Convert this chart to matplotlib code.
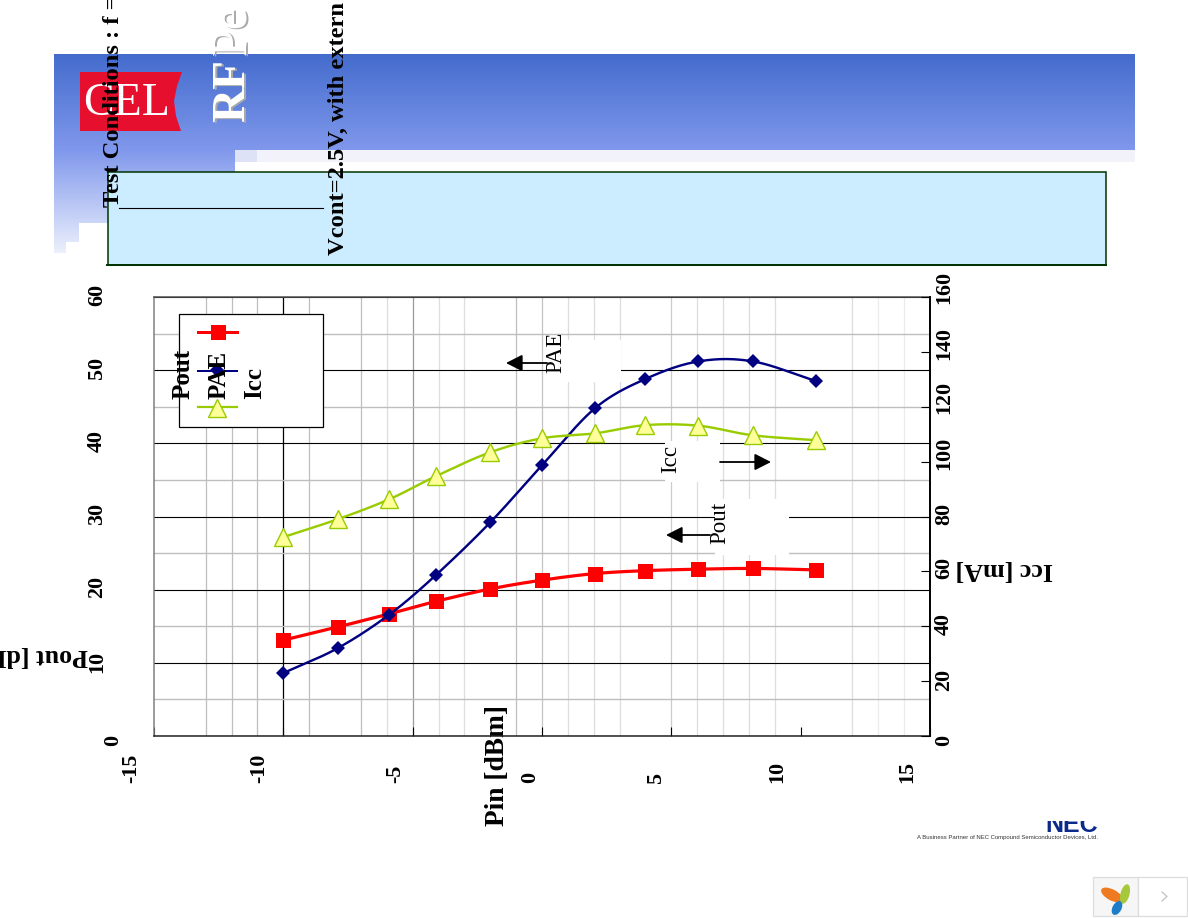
import numpy as np
import matplotlib
matplotlib.use("Agg")
import matplotlib.pyplot as plt
from matplotlib.patches import Rectangle, Polygon, Ellipse
from matplotlib.lines import Line2D
from matplotlib.transforms import Affine2D

# ---- data ----
pin_dbm = [-10.0, -7.9, -5.9, -4.1, -2.0, 0.0, 2.05, 4.0, 6.05, 8.15, 10.6]
pout_dbm = [13.1, 14.9, 16.7, 18.4, 20.1, 21.3, 22.2, 22.6, 22.8, 22.9, 22.7]
pae_pct = [8.6, 12.0, 16.6, 22.0, 29.2, 37.0, 44.8, 48.8, 51.2, 51.2, 48.5]
icc_ma = [72.5, 79.0, 86.3, 94.7, 103.4, 108.5, 110.3, 113.3, 113.1, 109.6, 107.8]

x_ticks = [-15, -10, -5, 0, 5, 10, 15]
left_ticks = [0, 10, 20, 30, 40, 50, 60]
right_ticks = [0, 20, 40, 60, 80, 100, 120, 140, 160]

SERIF = "Liberation Serif"
SANS = "Liberation Sans"
W, H = 1188, 918


def pt(px):
    return px * 0.72


def smooth(xs, ys, n=24):
    """Catmull-Rom curve through the measured points (Excel style smoothing)."""
    p = np.column_stack([xs, ys])
    p = np.vstack([2 * p[0] - p[1], p, 2 * p[-1] - p[-2]])
    out = []
    t = np.linspace(0, 1, n, endpoint=False)[:, None]
    for i in range(1, len(p) - 2):
        a, b, c, d = p[i - 1], p[i], p[i + 1], p[i + 2]
        out.append(0.5 * (2 * b + (c - a) * t + (2 * a - 5 * b + 4 * c - d) * t ** 2
                          + (3 * b - a - 3 * c + d) * t ** 3))
    out.append(p[-2][None, :])
    out = np.vstack(out)
    return out[:, 0], out[:, 1]


fig = plt.figure(figsize=(W / 100, H / 100), dpi=100, facecolor="white")

# ---- background layer in pixel coordinates ----
bg = fig.add_axes([0, 0, 1, 1], zorder=0)
bg.set_xlim(0, W); bg.set_ylim(H, 0); bg.axis("off")

img = np.ones((H, W, 3))
top_c = np.array([68, 108, 205]) / 255
mid_c = np.array([128, 152, 236]) / 255
low_c = np.array([236, 240, 252]) / 255
for y in range(54, 150):
    f = (y - 54) / 96
    img[y, 54:1135] = top_c + (mid_c - top_c) * f
img[150:162, 257:1135] = np.array([242, 242, 251]) / 255
img[150:162, 235:257] = np.array([222, 226, 246]) / 255
for y in range(150, 253):
    f = (y - 150) / 102
    c = mid_c + (low_c - mid_c) * f
    right = 235 if y < 172 else 108
    img[y, 54:right] = c
img[223:, 79:] = 1.0
img[242:, 66:] = 1.0
bg.imshow(img, extent=(0, W, H, 0), aspect="auto", interpolation="nearest", zorder=0)
bg.set_xlim(0, W); bg.set_ylim(H, 0)

# logo
bg.add_patch(Polygon([(80, 72), (182, 72), (177, 86), (174, 101), (176, 116), (181, 131), (80, 131)],
                     closed=True, fc="#E60F2D", ec="none", zorder=1))
bg.text(126.5, 104, "CEL", family=SERIF, fontsize=33, color="white", ha="center", va="center", zorder=2)

# heading
for dx, col in [(2, "#AAAAAA"), (0, "white")]:
    bg.text(233 + dx, 122 + dx * 0.5, "RF", family=SERIF, weight="bold", fontsize=34, color=col,
            rotation=90, ha="center", va="bottom", zorder=3)
    bg.text(233 + dx, 55 + dx * 0.5, "Pe", family=SERIF, fontsize=36, color=col,
            rotation=90, ha="center", va="bottom", zorder=3)

# condition panel
bg.add_patch(Rectangle((107.5, 171.5), 998, 93, fc="#CCECFF", ec="#003300", lw=1.1, zorder=3))
bg.add_line(Line2D([107, 1106], [264.5, 264.5], color="#003300", lw=1.4, zorder=4))
bg.add_line(Line2D([119, 323], [207.5, 207.5], color="black", lw=0.8, zorder=4))

# NEC footer (the top of the word is cut off in the original)
bg.text(1072, 832, "NEC", family=SANS, weight="bold", fontsize=18, color="#0A2A8C",
        ha="center", va="baseline", zorder=3)
bg.add_patch(Rectangle((1040, 805), 65, 16, fc="white", ec="none", zorder=4))
bg.text(1098, 838, "A Business Partner of NEC Compound Semiconductor Devices, Ltd.", family=SANS,
        fontsize=4.35, color="#333333", ha="right", va="center", zorder=5)

# viewer widget
bg.add_patch(Rectangle((1092.5, 876.5), 45, 39, fc="#F6F6F6", ec="#DDDDDD", lw=0.9))
bg.add_patch(Rectangle((1137.5, 876.5), 49, 39, fc="white", ec="#DDDDDD", lw=0.9))
bg.add_patch(Ellipse((1112, 895), 24, 11, angle=28, fc="#EE7B22", ec="none"))
bg.add_patch(Ellipse((1125, 894), 9, 20, angle=15, fc="#A8C83C", ec="none"))
bg.add_patch(Ellipse((1117, 908), 9, 15, angle=28, fc="#1E7CC8", ec="none"))
bg.add_line(Line2D([1162, 1167, 1162], [892, 896.5, 901], color="#BBBBBB", lw=0.8))

# ---- chart ----
ax = fig.add_axes([154 / W, (H - 736) / H, (930 - 154) / W, (736 - 297) / H], zorder=1, facecolor="white")
ax.set_xlim(-15, 15)
ax.set_ylim(0, 60)
ax.set_xticks(x_ticks)
ax.set_xticks(np.arange(-15, 16, 1), minor=True)
ax.set_yticks(left_ticks)
ax.set_yticks(np.arange(5, 60, 10), minor=True)
ax.set_axisbelow(True)
ax.grid(True, which="major", axis="y", color="black", lw=0.8)
ax.grid(True, which="minor", axis="y", color="#BEBEBE", lw=1.0)
ax.grid(True, which="both", axis="x", lw=0.9)

major_cols = {-15: "none", -10: "black", -5: "#999999", 0: "#C4C4C4", 5: "#CCCCCC", 10: "none", 15: "none"}
for tk, v in zip(ax.xaxis.get_major_ticks(), x_ticks):
    tk.gridline.set_color(major_cols[v])
for tk, v in zip(ax.xaxis.get_minor_ticks(), np.arange(-15, 16, 1)):
    if v < -8:
        c = "#BEBEBE"
    elif v < -5:
        c = "#DEDEDE"
    elif v == -4:
        c = "#BEBEBE"
    elif v < 7:
        c = "#DDDDDD"
    else:
        c = "#ECECEC"
    if v in x_ticks:
        c = "none"
    tk.gridline.set_color(c)

ax.tick_params(axis="x", which="major", direction="in", length=pt(9), width=0.8, color="black", pad=0)
ax.tick_params(axis="x", which="minor", length=0)
ax.tick_params(axis="y", which="both", length=0)
ax.spines["left"].set_color("#808080")
ax.spines["top"].set_color("#505050")
ax.spines["bottom"].set_color("#222222")
ax.spines["right"].set_color("black")
for s in ax.spines.values():
    s.set_linewidth(1.1)

# knocked-out label boxes (they hide the grid in the original)
ov = fig.add_axes([0, 0, 1, 1], zorder=5)
ov.set_xlim(0, W); ov.set_ylim(H, 0); ov.axis("off")
for (x0, y0, x1, y1) in [(547, 340, 621, 382), (665, 441, 720, 482), (715, 499, 789, 555)]:
    ax.add_patch(Rectangle((x0, y0), x1 - x0, y1 - y0, fc="white", ec="none", zorder=1.5,
                           transform=ov.transData))

xs, ys = smooth(pin_dbm, pout_dbm)
ax.plot(xs, ys, color="#FF0000", lw=pt(3.2), zorder=3, solid_capstyle="round")
ax.plot(pin_dbm, pout_dbm, ls="none", marker="s", ms=pt(15), mfc="#FF0000", mec="#FF0000", mew=0, zorder=3)
xs, ys = smooth(pin_dbm, pae_pct)
ax.plot(xs, ys, color="#000080", lw=pt(2.4), zorder=4)
ax.plot(pin_dbm, pae_pct, ls="none", marker="D", ms=pt(9.5), mfc="#000080", mec="#000080", mew=0, zorder=4)

ax2 = ax.twinx()
ax2.set_zorder(2)
ax2.patch.set_visible(False)
ax2.set_ylim(0, 160)
ax2.set_yticks(right_ticks)
ax2.tick_params(axis="y", direction="in", length=pt(9), width=0.8, color="black", pad=0)
for k in ("left", "top", "bottom"):
    ax2.spines[k].set_visible(False)
ax2.spines["right"].set_linewidth(1.3)
xs, ys = smooth(pin_dbm, icc_ma)
ax2.plot(xs, ys, color="#99CC00", lw=pt(2.4), zorder=3)
ax2.plot(pin_dbm, icc_ma, ls="none", marker="^", ms=pt(18), mfc="#FFFF99", mec="#99CC00", mew=1.0, zorder=3)

# ---- tick labels: rotated, with the offsets of the original (pixels) ----
ax.set_xticklabels([str(v) for v in x_ticks], family=SERIF, weight="bold", fontsize=pt(22), rotation=90,
                   ha="center", va="bottom")
x_off = {-15: -23, -10: -24, -5: -17, 0: -12, 5: -15, 10: -23, 15: -23}
for lab, v in zip(ax.get_xticklabels(), x_ticks):
    lab.set_transform(lab.get_transform() + Affine2D().translate(x_off[v], -47))

ax.set_yticklabels([str(v) for v in left_ticks], family=SERIF, weight="bold", fontsize=pt(22), rotation=90,
                   ha="center", va="center")
y_off = {0: (-36, -4), 10: (-52, 1), 20: (-52, 3), 30: (-52, 3), 40: (-52, 2), 50: (-52, 2), 60: (-52, 2)}
for lab, v in zip(ax.get_yticklabels(), left_ticks):
    lab.set_transform(lab.get_transform() + Affine2D().translate(*y_off[v]))

ax2.set_yticklabels([str(v) for v in right_ticks], family=SERIF, weight="bold", fontsize=pt(22), rotation=90,
                    ha="center", va="center")
r_off = {0: -4, 20: 1, 40: 2, 60: 3, 80: 3, 100: 8, 120: 9, 140: 8, 160: 10}
for lab, v in zip(ax2.get_yticklabels(), right_ticks):
    lab.set_transform(lab.get_transform() + Affine2D().translate(14, r_off[v]))

# axis labels
ax.set_xlabel("Pin [dBm]", family=SERIF, weight="bold", fontsize=pt(27.4), rotation=90, ha="center", va="center")
ax.xaxis.set_label_coords(497.5, 765, transform=ov.transData)
ax.set_ylabel("Pout [dB", family=SERIF, weight="bold", fontsize=pt(26), rotation=180, ha="left", va="center")
ax.yaxis.set_label_coords(88, 656, transform=ov.transData)
ax2.set_ylabel("Icc [mA]", family=SERIF, weight="bold", fontsize=pt(26), rotation=180, ha="center", va="center")
ax2.yaxis.set_label_coords(1004, 570, transform=ov.transData)

# ---- overlay: legend, annotations, headline texts ----
ov.add_patch(Rectangle((178.5, 313.5), 144.5, 113.5, fc="white", ec="black", lw=0.9, zorder=1))
ov.add_line(Line2D([198, 237], [332, 332], color="#FF0000", lw=pt(3), zorder=2))
ov.add_line(Line2D([218], [332], ls="none", marker="s", ms=pt(15), mfc="#FF0000", mew=0, zorder=2))
ov.add_line(Line2D([198, 237], [371, 371], color="#000080", lw=pt(2), zorder=2))
ov.add_line(Line2D([217], [370], ls="none", marker="D", ms=pt(9.5), mfc="#000080", mew=0, zorder=2))
ov.add_line(Line2D([198, 237], [407, 407], color="#99CC00", lw=pt(2.2), zorder=2))
ov.add_line(Line2D([217], [408], ls="none", marker="^", ms=pt(18), mfc="#FFFF99", mec="#99CC00", mew=1.0, zorder=2))
for name, x in [("Pout", 183), ("PAE", 219), ("Icc", 254.5)]:
    ov.text(x, 399, name, family=SERIF, weight="bold", fontsize=pt(25), rotation=90,
            ha="center", va="bottom", zorder=3)

for tip, tail, y in [(506, 547, 363), (771, 720, 462), (666, 710, 535)]:
    ov.annotate("", xy=(tip, y), xytext=(tail, y),
                arrowprops=dict(arrowstyle="-|>,head_length=0.55,head_width=0.28", color="black", lw=1.3,
                                shrinkA=0, shrinkB=0, mutation_scale=18))
for name, x, y in [("PAE", 555.5, 373), ("Icc", 670.5, 473), ("Pout", 719.5, 544)]:
    ov.text(x, y, name, family=SERIF, fontsize=pt(23), rotation=90, ha="center", va="bottom", zorder=3)

ov.text(113.5, 207, "Test Conditions : f =", family=SERIF, weight="bold", fontsize=pt(24.5), rotation=90,
        ha="center", va="bottom", zorder=3)
ov.text(338.5, 255, "Vcont=2.5V, with extern", family=SERIF, weight="bold", fontsize=pt(24.5), rotation=90,
        ha="center", va="bottom", zorder=3)

fig.savefig("out.png", dpi=100)
